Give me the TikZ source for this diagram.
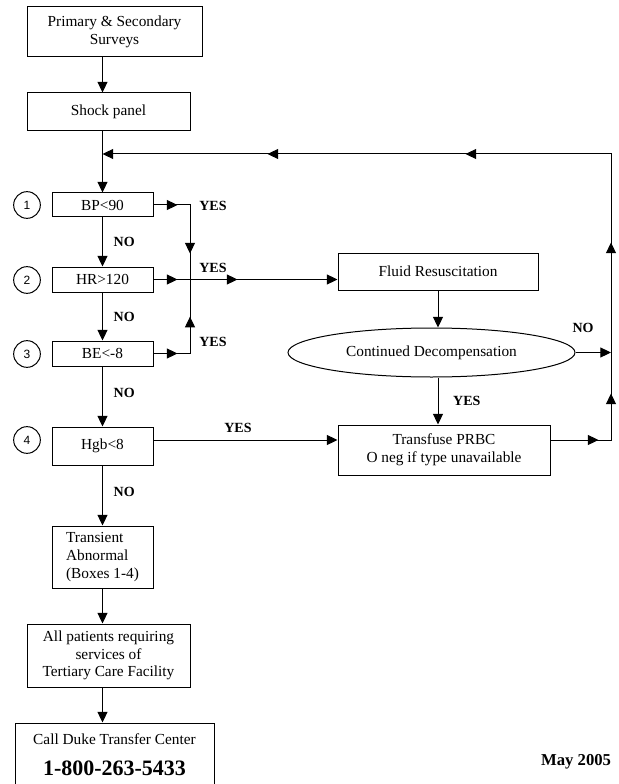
\documentclass[tikz,border=0pt]{standalone}
\usepackage{fontspec}
\setmainfont{Liberation Serif}
\newfontfamily\numfont{Liberation Sans}
\usetikzlibrary{arrows.meta}
\usetikzlibrary{shapes.geometric}
\usetikzlibrary{decorations.markings}
\usetikzlibrary{positioning}

\begin{document}
\begin{tikzpicture}[
   x=0.75pt, y=-0.75pt,
   font=\fontsize{11.5}{13.3}\selectfont,
   line width=0.75pt,
   >={Triangle[length=8pt,width=7.5pt]},
   box/.style={draw, rectangle, align=center, inner sep=2pt},
   numcircle/.style={draw, circle, minimum size=20pt, inner sep=0pt,
      font=\numfont\fontsize{9}{9}\selectfont},
   answer/.style={font=\fontsize{10.5}{12}\selectfont\bfseries, inner sep=1pt},
   tipat/.style={postaction={decorate,
      decoration={markings, mark=at position #1 with {\arrow{>}}}}}
]
   \useasboundingbox (0,0) rectangle (618,784);

   % main column
   \node[box, minimum width=131.25pt, minimum height=37.5pt]
      (surveys) at (114.5,32) {Primary \& Secondary\\Surveys};
   \node[box, minimum width=122.25pt, minimum height=28.5pt]
      (shock) at (108.5,112) {Shock panel};
   \node[box, minimum width=75.75pt, minimum height=18pt]
      (bp) at (102.5,205) {BP<90};
   \node[box, minimum width=75.75pt, minimum height=18.75pt]
      (hr) at (102.5,279.5) {HR>120};
   \node[box, minimum width=75.75pt, minimum height=18.75pt]
      (be) at (102.5,353.5) {BE<-8};
   \node[box, minimum width=75.75pt, minimum height=28.5pt]
      (hgb) at (102.5,446) {Hgb<8};
   \node[box, align=left, minimum width=75.75pt, minimum height=46.5pt]
      (transient) at (102.5,557) {Transient\\Abnormal\\(Boxes 1-4)};
   \node[box, minimum width=122.25pt, minimum height=47.25pt]
      (allpat) at (108.5,655.5) {All patients requiring\\services of\\Tertiary Care Facility};
   \node[box, minimum width=149.25pt, minimum height=47.25pt]
      (call) at (114.5,754.5) {Call Duke Transfer Center\\[10pt]
      {\fontsize{16.5}{18}\selectfont\bfseries 1-800-263-5433}};

   % right column
   \node[box, minimum width=150pt, minimum height=27.75pt]
      (fluid) at (438,271.5) {Fluid Resuscitation};
   \node[draw, ellipse, minimum width=215.25pt, minimum height=36.75pt, inner sep=0pt]
      (decomp) at (431.5,352.5) {Continued Decompensation};
   \node[box, minimum width=159pt, minimum height=37.5pt]
      (transfuse) at (444,450) {Transfuse PRBC\\O neg if type unavailable};

   % numbered circles
   \foreach \n/\y in {1/205, 2/280, 3/354, 4/440}
      \node[numcircle] (c\n) at (27,\y) {\n};

   \coordinate (join) at (102.5,154);
   \coordinate (loopR) at (611,154);
   \coordinate (ybus) at (190,205);

   % down the column
   \draw[->] (bp.north |- surveys.south) -- (bp.north |- shock.north);
   \draw (bp.north |- shock.south) -- (join);
   \draw[->] (join) -- (bp.north);
   \draw[->] (bp) -- node[answer, right=7pt]{NO} (hr);
   \draw[->] (hr) -- node[answer, right=7pt]{NO} (be);
   \draw[->] (be) -- node[answer, right=7pt, yshift=3pt]{NO} (hgb);
   \draw[->] (hgb) -- node[answer, right=7pt, yshift=3pt]{NO} (transient);
   \draw[->] (transient.south) -- (transient.south |- allpat.north);
   \draw[->] (bp.north |- allpat.south) -- (bp.north |- call.north);

   % YES branches
   \draw[tipat=18pt, tipat=63.75pt]
      (bp.east) -- (bp.east -| ybus) -- (hr.east -| ybus);
   \draw[tipat=18pt, tipat=55pt]
      (be.east) -- (be.east -| ybus) -- (hr.east -| ybus);
   \draw[->, tipat=18pt, tipat=63pt] (hr.east) -- (hr.east -| fluid.west);
   \draw[->] (c4 -| hgb.east) -- (c4 -| transfuse.west);

   \node[answer] (yes1) at (213,206) {YES};
   \node[answer] (yes2) at (213,268) {YES};
   \node[answer] (yes3) at (213,342) {YES};
   \node[answer] (yes4) at (238,428) {YES};

   % right side
   \draw[->] (fluid.south) -- (fluid.south |- decomp.north);
   \draw[->] (fluid.south |- decomp.south) -- node[answer, right=10pt]{YES}
      (fluid.south |- transfuse.north);
   \draw[->] (decomp.east) -- (decomp.east -| loopR);
   \node[answer] (no5) at (583,328) {NO};

   % feedback loop
   \draw[->, tipat=36pt, tipat=80.25pt, tipat=193.5pt, tipat=369pt, tipat=517.5pt]
      (c4 -| transfuse.east) -- (c4 -| loopR) -- (loopR) -- (join);

   \node[font=\fontsize{12.5}{14}\selectfont\bfseries, anchor=east]
      (date) at (616,762) {May 2005};
\end{tikzpicture}
\end{document}
